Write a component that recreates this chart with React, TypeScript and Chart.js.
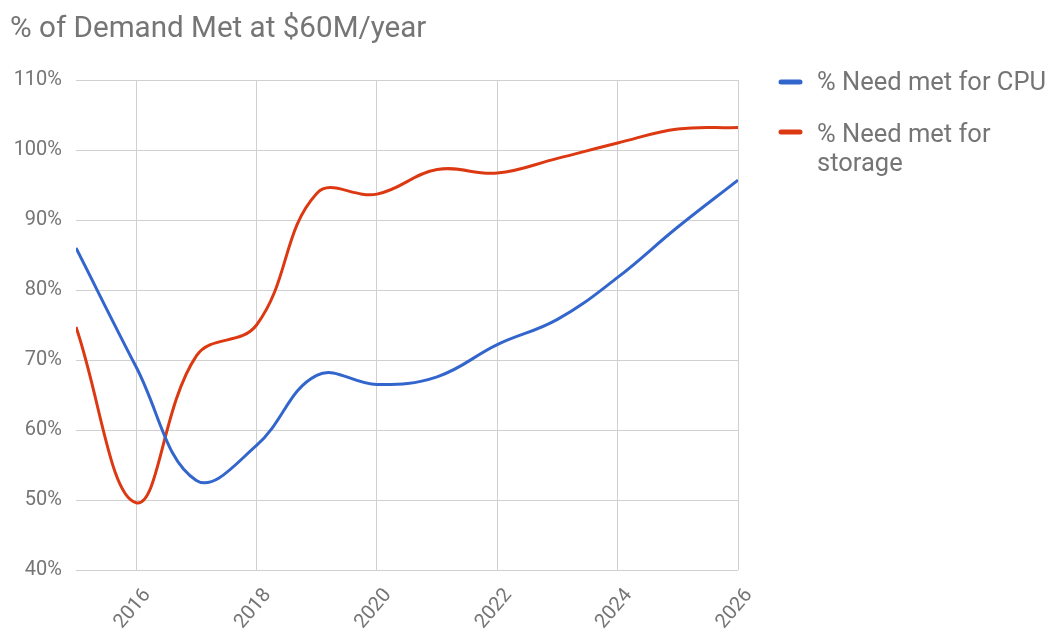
import React, { useEffect, useRef } from "react";
import { Chart, registerables } from "chart.js";

Chart.register(...registerables);

const titleText = "% of Demand Met at $60M/year";
const years = [2015, 2016, 2017, 2018, 2019, 2020, 2021, 2022, 2023, 2024, 2025, 2026];
const cpuValues = [86, 69, 52.8, 57.8, 67.8, 66.5, 67.6, 72.2, 75.8, 81.8, 89.0, 95.7];
const storageValues = [74.7, 49.6, 70.6, 75, 93.8, 93.7, 97.2, 96.7, 98.8, 101, 103, 103.2];
const xTickValues = [2016, 2018, 2020, 2022, 2024, 2026];
const xTickLabels = ["2016", "2018", "2020", "2022", "2024", "2026"];
const yTickValues = [40, 50, 60, 70, 80, 90, 100, 110];
const seriesNames = ["% Need met for CPU", "% Need met for storage"];
const legendLines = [["% Need met for CPU"], ["% Need met for", "storage"]];
const seriesColors = ["#3366cc", "#dc3912"];

const TEXT_COLOR = "#757575";
const GRID_COLOR = "#d0d0d0";
const FONT = "Roboto";

const overlayPlugin = {
  id: "overlayText",
  afterDraw(chart: any) {
    const ctx = chart.ctx;
    ctx.save();
    // title
    ctx.fillStyle = TEXT_COLOR;
    ctx.font = `29.6px ${FONT}`;
    ctx.textAlign = "left";
    ctx.textBaseline = "alphabetic";
    ctx.fillText(titleText, 10, 37);
    // legend
    const swatchY = [82, 132];
    const textY = [90, 142];
    const lineGap = 28.5;
    legendLines.forEach((lines, i) => {
      ctx.strokeStyle = seriesColors[i];
      ctx.lineWidth = 5;
      ctx.lineCap = "round";
      ctx.beginPath();
      ctx.moveTo(781, swatchY[i]);
      ctx.lineTo(800, swatchY[i]);
      ctx.stroke();
      ctx.fillStyle = TEXT_COLOR;
      ctx.font = `25.5px ${FONT}`;
      lines.forEach((ln, j) => {
        ctx.fillText(ln, 817, textY[i] + j * lineGap);
      });
    });
    ctx.restore();
  },
};

export default function App() {
  const ref = useRef<HTMLCanvasElement>(null);
  useEffect(() => {
    if (!ref.current) return;
    const chart = new Chart(ref.current, {
      type: "line",
      data: {
        datasets: [cpuValues, storageValues].map((vals, i) => ({
          label: seriesNames[i],
          data: years.map((y, k) => ({ x: y, y: vals[k] })),
          borderColor: seriesColors[i],
          backgroundColor: seriesColors[i],
          borderWidth: 3,
          pointRadius: 0,
          tension: 0.4,
          fill: false,
        })),
      },
      options: {
        animation: false,
        responsive: false,
        layout: { padding: { left: 0, right: 316, top: 80, bottom: 0 } },
        plugins: {
          legend: { display: false },
          title: { display: false },
          tooltip: { enabled: false },
        },
        scales: {
          x: {
            type: "linear",
            min: 2015,
            max: 2026,
            afterBuildTicks: (axis: any) => {
              axis.ticks = xTickValues.map((v) => ({ value: v }));
            },
            afterFit: (axis: any) => {
              axis.height = 61;
            },
            grid: { color: GRID_COLOR, lineWidth: 1, drawTicks: false },
            border: { display: false },
            ticks: {
              color: TEXT_COLOR,
              font: { family: FONT, size: 20 },
              minRotation: 50,
              maxRotation: 50,
              padding: 14,
              labelOffset: 11,
              autoSkip: false,
              callback: (v: any) => {
                const idx = xTickValues.indexOf(Number(v));
                return idx >= 0 ? xTickLabels[idx] : "";
              },
            },
          },
          y: {
            type: "linear",
            min: 40,
            max: 110,
            afterBuildTicks: (axis: any) => {
              axis.ticks = yTickValues.map((v) => ({ value: v }));
            },
            afterFit: (axis: any) => {
              axis.width = 76;
            },
            grid: { color: GRID_COLOR, lineWidth: 1, drawTicks: false },
            border: { display: false },
            ticks: {
              color: TEXT_COLOR,
              font: { family: FONT, size: 20 },
              padding: 14,
              callback: (v: any) => `${v}%`,
            },
          },
        },
      },
      plugins: [overlayPlugin],
    });
    return () => chart.destroy();
  }, []);
  return (
    <div style={{ position: "absolute", left: 0, top: 0, width: 1054, height: 631, background: "#fff" }}>
      <canvas ref={ref} width={1054} height={631} style={{ display: "block" }} />
    </div>
  );
}
